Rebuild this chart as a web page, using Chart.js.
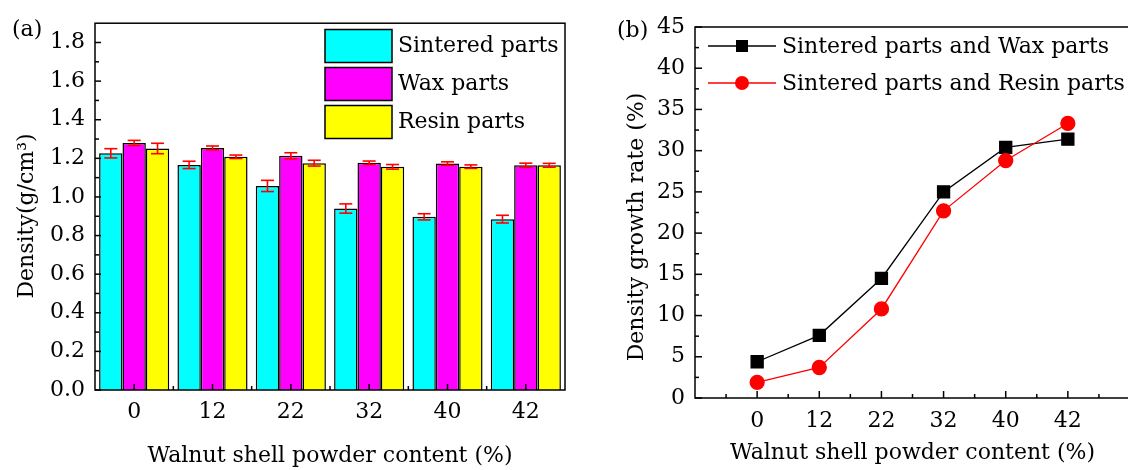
<!DOCTYPE html>
<html>
<head>
<meta charset="utf-8">
<script src="https://cdn.jsdelivr.net/npm/chart.js@4/dist/chart.umd.min.js"></script>
<style>
html, body { margin: 0; padding: 0; background: #fff; overflow: hidden; width: 1128px; height: 470px; }
#boxA { position: absolute; left: 0; top: 0; width: 580px; height: 470px; }
#boxB { position: absolute; left: 600px; top: 0; width: 560px; height: 470px; }
</style>
</head>
<body>
<div id="boxA"><canvas id="chartA"></canvas></div>
<div id="boxB"><canvas id="chartB"></canvas></div>
<script>
// walnut shell powder content (%)
const contents = ["0", "12", "22", "32", "40", "42"];

// (a) density, g/cm3
const sintered = [1.226, 1.166, 1.057, 0.940, 0.897, 0.885];
const sinteredErr = [0.024, 0.019, 0.029, 0.024, 0.016, 0.020];
const wax = [1.280, 1.254, 1.213, 1.177, 1.173, 1.164];
const waxErr = [0.013, 0.010, 0.016, 0.009, 0.009, 0.011];
const resin = [1.251, 1.208, 1.175, 1.156, 1.157, 1.164];
const resinErr = [0.027, 0.009, 0.015, 0.012, 0.009, 0.010];
const yTicksA = [0, 0.2, 0.4, 0.6, 0.8, 1.0, 1.2, 1.4, 1.6, 1.8];

// (b) density growth rate, %
const growthWax = [4.4, 7.6, 14.5, 25.0, 30.4, 31.4];
const growthResin = [1.9, 3.7, 10.8, 22.7, 28.8, 33.3];
const yTicksB = [0, 5, 10, 15, 20, 25, 30, 35, 40, 45];

const FONT = "DejaVu Serif";
Chart.defaults.font.family = FONT;
Chart.defaults.color = "#000";

function line(ctx, x1, y1, x2, y2){
    ctx.beginPath();
    ctx.moveTo(x1, y1);
    ctx.lineTo(x2, y2);
    ctx.stroke();
}

function yTitle(ctx, text, x, y){
    ctx.save();
    ctx.translate(x, y);
    ctx.rotate(-Math.PI / 2);
    ctx.font = "22px '" + FONT + "'";
    ctx.fillStyle = "#000";
    ctx.textAlign = "center";
    ctx.textBaseline = "middle";
    ctx.fillText(text, 0, 0);
    ctx.restore();
}

// ---------- (a) bars with error bars ----------
const extrasA = {
    id: "extrasA",
    afterDatasetsDraw(chart){
        const ctx = chart.ctx;
        const a = chart.chartArea;
        const x = chart.scales.x, y = chart.scales.y;
        ctx.save();
        // error bars
        ctx.strokeStyle = "#ff0000";
        ctx.lineWidth = 1.6;
        chart.data.datasets.forEach((ds, d) => {
            chart.getDatasetMeta(d).data.forEach((bar, i) => {
                const top = y.getPixelForValue(ds.data[i] + ds.errors[i]);
                const bot = y.getPixelForValue(ds.data[i] - ds.errors[i]);
                line(ctx, bar.x, top, bar.x, bot);
                line(ctx, bar.x - 6.5, top, bar.x + 6.5, top);
                line(ctx, bar.x - 6.5, bot, bar.x + 6.5, bot);
            });
        });
        // frame and inward ticks
        ctx.strokeStyle = "#000";
        ctx.lineWidth = 1.5;
        ctx.strokeRect(a.left, a.top, a.right - a.left, a.bottom - a.top);
        yTicksA.forEach(v => {
            const p = y.getPixelForValue(v);
            line(ctx, a.left, p, a.left + 6, p);
            const m = y.getPixelForValue(v + 0.1);
            if (m > a.top) line(ctx, a.left, m, a.left + 4, m);
        });
        contents.forEach((c, i) => {
            const p = x.getPixelForValue(i);
            line(ctx, p, a.bottom, p, a.bottom - 6);
            if (i < contents.length - 1) {
                const m = (p + x.getPixelForValue(i + 1)) / 2;
                line(ctx, m, a.bottom, m, a.bottom - 4);
            }
        });
        // legend
        ctx.font = "22px '" + FONT + "'";
        ctx.textBaseline = "middle";
        ctx.textAlign = "left";
        chart.data.datasets.forEach((ds, d) => {
            const top = 29.5 + d * 38;
            ctx.fillStyle = ds.backgroundColor;
            ctx.fillRect(325, top, 67, 33);
            ctx.strokeRect(325, top, 67, 33);
            ctx.fillStyle = "#000";
            ctx.fillText(ds.label, 398, top + 17);
        });
        ctx.fillText("(a)", 12, 30);
        ctx.restore();
        yTitle(ctx, "Density(g/cm³)", 27, 216);
    }
};

new Chart(document.getElementById("chartA"), {
    type: "bar",
    data: {
        labels: contents,
        datasets: [
            { label: "Sintered parts", data: sintered, errors: sinteredErr, backgroundColor: "#00ffff" },
            { label: "Wax parts", data: wax, errors: waxErr, backgroundColor: "#ff00ff" },
            { label: "Resin parts", data: resin, errors: resinErr, backgroundColor: "#ffff00" }
        ]
    },
    options: {
        responsive: true,
        maintainAspectRatio: false,
        animation: false,
        layout: { padding: { top: 22, right: 15, left: 0, bottom: 0 } },
        datasets: { bar: { borderColor: "#000", borderWidth: 1.5, categoryPercentage: 0.895, barPercentage: 1.0 } },
        plugins: { legend: { display: false }, tooltip: { enabled: false } },
        scales: {
            x: {
                grid: { display: false, drawTicks: false },
                border: { display: false },
                ticks: { font: { size: 22 }, padding: 9 },
                title: { display: true, text: "Walnut shell powder content (%)", font: { size: 22 }, padding: { bottom: 1 } },
                afterFit(s){ s.height = 80; }
            },
            y: {
                min: 0,
                max: 1.9,
                grid: { display: false, drawTicks: false },
                border: { display: false },
                ticks: { font: { size: 22 }, padding: 10, callback: v => v.toFixed(1) },
                afterBuildTicks(s){ s.ticks = yTicksA.map(v => ({ value: v })); },
                afterFit(s){ s.width = 95; }
            }
        }
    },
    plugins: [extrasA]
});

// ---------- (b) growth rate lines ----------
const extrasB = {
    id: "extrasB",
    afterDatasetsDraw(chart){
        const ctx = chart.ctx;
        const a = chart.chartArea;
        const x = chart.scales.x, y = chart.scales.y;
        ctx.save();
        ctx.strokeStyle = "#000";
        ctx.lineWidth = 1.5;
        ctx.strokeRect(a.left, a.top, a.right - a.left, a.bottom - a.top);
        yTicksB.forEach(v => {
            const p = y.getPixelForValue(v);
            line(ctx, a.left, p, a.left + 7, p);
            const m = y.getPixelForValue(v + 2.5);
            if (m > a.top) line(ctx, a.left, m, a.left + 4, m);
        });
        for (let i = -1; i <= 6; i++) {
            if (i >= 0 && i < contents.length) {
                const p = x.getPixelForValue(i);
                line(ctx, p, a.bottom, p, a.bottom - 7);
            }
            const m = x.getPixelForValue(i + 0.5);
            if (m < a.right) line(ctx, m, a.bottom, m, a.bottom - 4);
        }
        // legend
        ctx.font = "22px '" + FONT + "'";
        ctx.textBaseline = "middle";
        ctx.textAlign = "left";
        const rows = [chart.data.datasets[0], chart.data.datasets[1]];
        rows.forEach((ds, d) => {
            const cy = 46 + d * 37;
            ctx.strokeStyle = ds.borderColor;
            ctx.lineWidth = 1.3;
            line(ctx, 108, cy, 176, cy);
            ctx.fillStyle = ds.backgroundColor;
            if (ds.pointStyle === "rect") {
                ctx.fillRect(136, cy - 6, 12, 12);
            } else {
                ctx.beginPath();
                ctx.arc(142, cy, 7, 0, Math.PI * 2);
                ctx.fill();
            }
            ctx.fillStyle = "#000";
            ctx.fillText(ds.label, 182, cy + 1);
        });
        ctx.fillText("(b)", 17, 31);
        ctx.restore();
        yTitle(ctx, "Density growth rate (%)", 37, 227);
    }
};

new Chart(document.getElementById("chartB"), {
    type: "line",
    data: {
        datasets: [
            {
                label: "Sintered parts and Wax parts",
                data: growthWax.map((v, i) => ({ x: i, y: v })),
                borderColor: "#000", backgroundColor: "#000",
                pointStyle: "rect", pointRadius: 8.5, borderWidth: 1.3, order: 1
            },
            {
                label: "Sintered parts and Resin parts",
                data: growthResin.map((v, i) => ({ x: i, y: v })),
                borderColor: "#ff0000", backgroundColor: "#ff0000",
                pointStyle: "circle", pointRadius: 7, borderWidth: 1.3, order: 0
            }
        ]
    },
    options: {
        responsive: true,
        maintainAspectRatio: false,
        animation: false,
        layout: { padding: { top: 27, right: 30, left: 0, bottom: 0 } },
        elements: { point: { borderWidth: 0 } },
        plugins: { legend: { display: false }, tooltip: { enabled: false } },
        scales: {
            x: {
                type: "linear",
                min: -1,
                max: 6,
                grid: { display: false, drawTicks: false },
                border: { display: false },
                ticks: { font: { size: 22 }, padding: 10, callback: v => contents[v] },
                afterBuildTicks(s){ s.ticks = contents.map((c, i) => ({ value: i })); },
                title: { display: true, text: "Walnut shell powder content (%)", font: { size: 22 }, padding: { bottom: 4 } },
                afterFit(s){ s.height = 72; }
            },
            y: {
                min: 0,
                max: 45,
                grid: { display: false, drawTicks: false },
                border: { display: false },
                ticks: { font: { size: 22 }, padding: 10 },
                afterBuildTicks(s){ s.ticks = yTicksB.map(v => ({ value: v })); },
                afterFit(s){ s.width = 95; }
            }
        }
    },
    plugins: [extrasB]
});
</script>
</body>
</html>
